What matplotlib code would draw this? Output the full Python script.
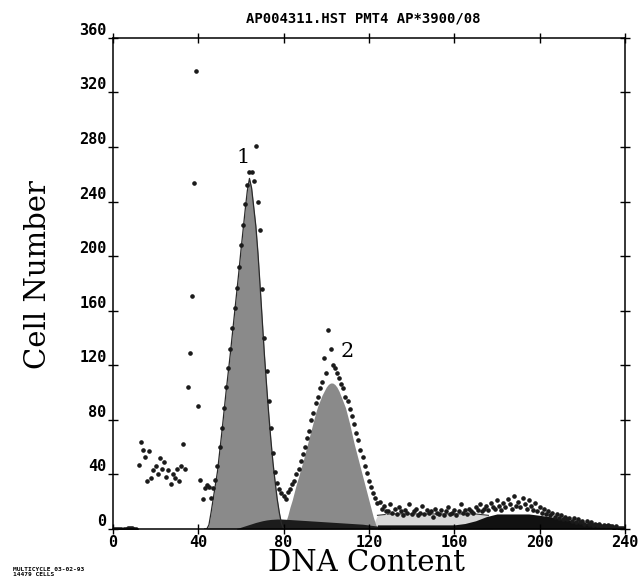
import matplotlib
matplotlib.use('Agg')
import matplotlib.pyplot as plt
import numpy as np

# observed histogram, one value per channel (0..240)
obs_counts = [
    0, 0, 0, 0, 0, 0, 0, 1, 1, 1,
    0, 0, 47, 64, 58, 53, 35, 57, 37, 43,
    46, 40, 52, 44, 49, 38, 43, 33, 40, 37,
    44, 35, 46, 62, 44, 104, 129, 171, 254, 336,
    90, 36, 22, 30, 32, 31, 23, 30, 36, 46,
    60, 74, 89, 104, 118, 132, 147, 162, 177, 192,
    208, 223, 238, 252, 262, 262, 255, 281, 240, 219,
    176, 140, 116, 94, 74, 56, 42, 34, 29, 26,
    24, 22, 27, 29, 33, 35, 40, 44, 50, 55,
    60, 67, 72, 80, 85, 92, 97, 103, 108, 125,
    114, 146, 132, 120, 118, 114, 111, 106, 103, 97,
    94, 88, 83, 77, 70, 65, 58, 53, 46, 41,
    35, 31, 26, 23, 19, 20, 15, 17, 13, 13,
    18, 12, 15, 11, 16, 13, 10, 14, 12, 18,
    11, 13, 15, 10, 12, 17, 11, 14, 12, 13,
    9, 15, 12, 11, 14, 10, 13, 16, 11, 12,
    14, 10, 13, 18, 12, 14, 11, 15, 13, 12,
    16, 14, 18, 13, 15, 17, 14, 19, 16, 15,
    21, 17, 14, 19, 16, 22, 18, 15, 24, 17,
    20, 16, 23, 18, 15, 21, 17, 14, 19, 13,
    16, 12, 15, 11, 13, 10, 12, 9, 11, 8,
    10, 7, 9, 7, 8, 6, 8, 5, 7, 5,
    6, 4, 6, 4, 5, 3, 4, 3, 4, 2,
    3, 2, 3, 2, 2, 1, 2, 1, 1, 1,
    0,
]

# G1 peak (component 1), channels 43..80
g1_start = 43
g1_counts = [0, 0, 3, 12, 22, 32, 42, 56, 70, 85,
             100, 114, 128, 143, 158, 173, 188, 204, 219, 234,
             248, 257, 250, 236, 222, 202, 178, 153, 128, 106,
             85, 66, 49, 35, 22, 12, 4, 0]

# G2 peak (component 2), channels 80..124
g2_start = 80
g2_counts = [0, 5, 10, 16, 21, 27, 33, 38, 44, 49,
             55, 61, 67, 73, 79, 85, 90, 94, 98, 101,
             104, 106, 107, 107, 106, 104, 101, 97, 93, 89,
             83, 77, 70, 63, 57, 51, 45, 39, 33, 27,
             21, 15, 9, 4, 0]

# total fit around peak 2, channels 80..128
fit2_start = 80
fit2_counts = [22, 24, 27, 30, 34, 38, 43, 48, 53, 58,
               63, 69, 75, 81, 87, 93, 99, 104, 108, 112,
               115, 117, 118, 117, 116, 113, 110, 106, 102, 98,
               93, 88, 82, 76, 70, 64, 58, 52, 46, 40,
               35, 30, 26, 22, 19, 16, 14, 13, 12]

# S-phase band, channels 58..130
s_start = 58
s_counts = [0.4, 0.8, 1.3, 1.8, 2.3, 2.8, 3.3, 3.8, 4.3, 4.8,
            5.2, 5.6, 6.0, 6.3, 6.6, 6.8, 7.0, 7.1, 7.2, 7.3,
            7.3, 7.3, 7.2, 7.1, 7.0, 6.9, 6.8, 6.7, 6.6, 6.5,
            6.4, 6.3, 6.2, 6.1, 6.0, 5.9, 5.8, 5.7, 5.6, 5.5,
            5.4, 5.3, 5.2, 5.1, 5.0, 4.9, 4.8, 4.7, 4.6, 4.5,
            4.4, 4.3, 4.2, 4.1, 4.0, 3.9, 3.8, 3.7, 3.6, 3.5,
            3.3, 3.1, 2.9, 2.7, 2.5, 2.3, 2.1, 1.9, 1.7, 1.5,
            1.3, 1.1, 0.9]

# light aggregate band
band_x = [121, 124, 130, 140, 150, 160, 170, 176, 178]
band_counts = [0, 10, 11, 11, 11, 11, 11, 10, 0]

# dark tail (G2M aggregates)
tail_x = [124, 130, 140, 150, 160, 165, 170, 175, 180, 185, 190,
          195, 200, 205, 210, 215, 220, 225, 230, 235, 240]
tail_counts = [3, 3, 3, 3, 3, 4, 6, 9, 11, 11, 11,
               11, 10, 9, 7.5, 6, 4.5, 3.5, 2.5, 1.5, 0.8]

x_ticks = [0, 40, 80, 120, 160, 200, 240]
y_ticks = [0, 40, 80, 120, 160, 200, 240, 280, 320, 360]

mono = 'DejaVu Sans Mono'
serif = 'DejaVu Serif'

channel = np.arange(len(obs_counts))
g1_x = np.arange(g1_start, g1_start + len(g1_counts))
g2_x = np.arange(g2_start, g2_start + len(g2_counts))
fit2_x = np.arange(fit2_start, fit2_start + len(fit2_counts))
s_x = np.arange(s_start, s_start + len(s_counts))

fig = plt.figure(figsize=(6.38, 5.8), dpi=100)
ax = fig.add_axes([0.177, 0.088, 0.8025, 0.8466])

ax.fill_between(band_x, 0, band_counts, color='#d8d8d8', lw=0)
ax.plot(band_x[1:-1], band_counts[1:-1], color='#333333', lw=0.8)
ax.plot(fit2_x, fit2_counts, color='white', lw=2.4)
ax.fill_between(g1_x, 0, g1_counts, color='#8a8a8a', lw=0)
ax.plot(g1_x, g1_counts, color='#2a2a2a', lw=0.9)
ax.fill_between(g2_x, 0, g2_counts, color='#8a8a8a', lw=0)
ax.fill_between(s_x, 0, s_counts, color='#1c1c1c', lw=0)
ax.fill_between(tail_x, 0, tail_counts, color='#111111', lw=0)
ax.plot(channel, obs_counts, ls='none', marker='o', ms=2.3, color='#1a1a1a')

ax.text(61, 272, '1', family=serif, size=15, ha='center', va='center')
ax.text(110, 130, '2', family=serif, size=15, ha='center', va='center')

ax.set_xlim(0, 240)
ax.set_ylim(0, 360)
ax.set_xticks(x_ticks)
ax.set_yticks(y_ticks)
for sp in ax.spines.values():
    sp.set_linewidth(1.1)
ax.tick_params(axis='x', direction='inout', length=7, width=1, top=True, labelsize=11, pad=1)
ax.tick_params(axis='y', direction='inout', length=7, width=1, right=True, labelsize=11, pad=1)
for lbl in ax.get_xticklabels() + ax.get_yticklabels():
    lbl.set_fontfamily(mono)
    lbl.set_fontweight('bold')
for lbl in ax.get_yticklabels():
    lbl.set_verticalalignment('bottom')

fig.text(0.569, 0.968, 'AP004311.HST PMT4 AP*3900/08', ha='center', va='center',
         family=mono, weight='bold', size=10)
fig.text(0.06, 0.526, 'Cell Number', rotation=90, ha='center', va='center',
         family=serif, size=21)
fig.text(0.574, 0.029, 'DNA Content', ha='center', va='center', family=serif, size=21)
fig.text(0.02, 0.006, 'MULTICYCLE 03-02-93\n14479 CELLS', ha='left', va='bottom',
         family=mono, weight='bold', size=4.5, linespacing=1.0)

fig.savefig('out.png', dpi=100)
